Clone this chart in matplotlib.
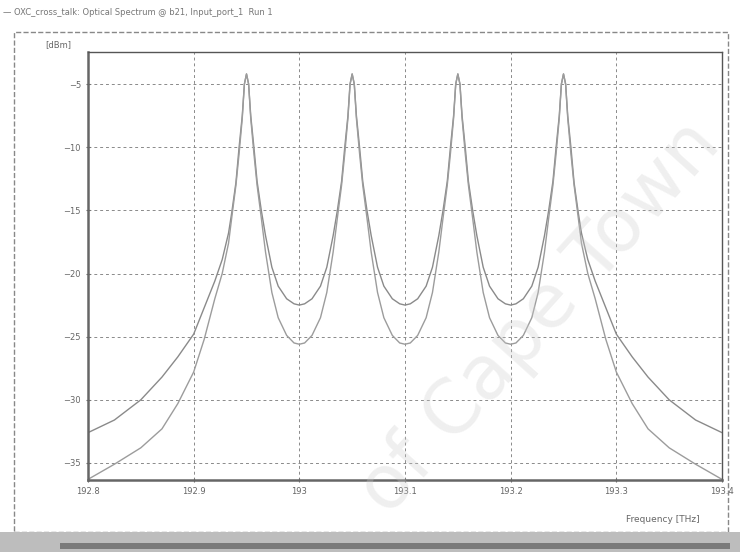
import matplotlib
matplotlib.use("Agg")
import matplotlib.pyplot as plt
from matplotlib.patches import Rectangle

# frequency axis [THz], shared by both traces
freq = [192.800, 192.825, 192.850, 192.870, 192.885, 192.900, 192.910, 192.920, 192.927, 192.933,
        192.936, 192.940, 192.943, 192.946, 192.948, 192.950,
        192.952, 192.954, 192.957, 192.960, 192.964, 192.968, 192.974, 192.980, 192.988, 192.995,
        193.000, 193.005, 193.012, 193.020, 193.026, 193.032, 193.036, 193.040, 193.043, 193.046,
        193.048, 193.050,
        193.052, 193.054, 193.057, 193.060, 193.064, 193.068, 193.074, 193.080, 193.088, 193.095,
        193.100, 193.105, 193.112, 193.120, 193.126, 193.132, 193.136, 193.140, 193.143, 193.146,
        193.148, 193.150,
        193.152, 193.154, 193.157, 193.160, 193.164, 193.168, 193.174, 193.180, 193.188, 193.195,
        193.200, 193.205, 193.212, 193.220, 193.226, 193.232, 193.236, 193.240, 193.243, 193.246,
        193.248, 193.250,
        193.252, 193.254, 193.257, 193.260, 193.264, 193.267, 193.273, 193.280, 193.290, 193.300,
        193.315, 193.330, 193.350, 193.375, 193.400]

# upper trace [dBm]
upper = [-32.6, -31.6, -30.0, -28.2, -26.6, -24.8, -22.7, -20.6, -18.9, -16.8,
         -15.2, -12.8, -10.0, -7.5, -5.0, -4.2,
         -5.0, -7.5, -10.0, -12.7, -15.0, -17.0, -19.5, -21.0, -22.0, -22.4,
         -22.5, -22.4, -22.0, -21.0, -19.5, -17.0, -15.0, -12.7, -10.0, -7.5,
         -5.0, -4.2,
         -5.0, -7.5, -10.0, -12.7, -15.0, -17.0, -19.5, -21.0, -22.0, -22.4,
         -22.5, -22.4, -22.0, -21.0, -19.5, -17.0, -15.0, -12.7, -10.0, -7.5,
         -5.0, -4.2,
         -5.0, -7.5, -10.0, -12.7, -15.0, -17.0, -19.5, -21.0, -22.0, -22.4,
         -22.5, -22.4, -22.0, -21.0, -19.5, -17.0, -15.0, -12.7, -10.0, -7.5,
         -5.0, -4.2,
         -5.0, -7.5, -10.0, -12.8, -15.2, -16.8, -18.9, -20.6, -22.7, -24.8,
         -26.6, -28.2, -30.0, -31.6, -32.6]

# lower trace [dBm]
lower = [-36.3, -35.1, -33.8, -32.3, -30.3, -27.8, -25.2, -22.0, -20.0, -17.6,
         -15.6, -13.0, -10.5, -7.7, -5.0, -4.2,
         -5.0, -7.7, -10.5, -13.0, -15.6, -18.3, -21.5, -23.5, -24.9, -25.5,
         -25.6, -25.5, -24.9, -23.5, -21.5, -18.3, -15.6, -13.0, -10.5, -7.7,
         -5.0, -4.2,
         -5.0, -7.7, -10.5, -13.0, -15.6, -18.3, -21.5, -23.5, -24.9, -25.5,
         -25.6, -25.5, -24.9, -23.5, -21.5, -18.3, -15.6, -13.0, -10.5, -7.7,
         -5.0, -4.2,
         -5.0, -7.7, -10.5, -13.0, -15.6, -18.3, -21.5, -23.5, -24.9, -25.5,
         -25.6, -25.5, -24.9, -23.5, -21.5, -18.3, -15.6, -13.0, -10.5, -7.7,
         -5.0, -4.2,
         -5.0, -7.7, -10.5, -13.0, -15.6, -17.6, -20.0, -22.0, -25.2, -27.8,
         -30.3, -32.3, -33.8, -35.1, -36.3]

xticks = [192.8, 192.9, 193.0, 193.1, 193.2, 193.3, 193.4]
xlabels = ["192.8", "192.9", "193", "193.1", "193.2", "193.3", "193.4"]
yticks = [-5, -10, -15, -20, -25, -30, -35]

fig = plt.figure(figsize=(7.4, 5.52), dpi=100)
ax = fig.add_axes([88/740, 1-480/552, (722-88)/740, (480-52)/552])

ax.plot(freq, upper, color='#8a8a8a', linewidth=1.0)
ax.plot(freq, lower, color='#9c9c9c', linewidth=1.0)

ax.set_xlim(192.8, 193.4)
ax.set_ylim(-36.35, -2.46)
ax.set_xticks(xticks)
ax.set_xticklabels(xlabels)
ax.set_yticks(yticks)
ax.tick_params(labelsize=6, colors='#666666', length=3, width=0.8, direction='inout')
ax.grid(color='#8a8a8a', linestyle=(0, (3, 3)), linewidth=0.7)

for side in ['left', 'bottom']:
    ax.spines[side].set_linewidth(1.8)
    ax.spines[side].set_color('#666666')
for side in ['top', 'right']:
    ax.spines[side].set_linewidth(1.0)
    ax.spines[side].set_color('#555555')

# window decorations
fig.text(0.004, 0.978, "\u2014 OXC_cross_talk: Optical Spectrum @ b21, Input_port_1  Run 1",
         fontsize=6, color='#777777', va='center')
fig.text(45/740, 1-45/552, "[dBm]", fontsize=6, color='#666666', va='center')
fig.text(700/740, 1-520/552, "Frequency [THz]", fontsize=6.5, color='#666666',
         ha='right', va='center')
fig.add_artist(Rectangle((14/740, 20/552), 714/740, 1-52/552, transform=fig.transFigure,
                         fill=False, edgecolor='#888888', linewidth=1.0, linestyle='--'))
fig.add_artist(Rectangle((0, 0), 1, 20/552, transform=fig.transFigure,
                         facecolor='#bdbdbd', edgecolor='none'))
fig.add_artist(Rectangle((60/740, 3/552), 670/740, 6/552, transform=fig.transFigure,
                         facecolor='#7a7a7a', edgecolor='none'))

# watermark, drawn over the plot
fig.text(540/740, 1-318/552, "of Cape Town", fontsize=54, color='#cccccc', alpha=0.3,
         rotation=48, ha='center', va='center', zorder=10)

fig.savefig("out.png", dpi=100)
